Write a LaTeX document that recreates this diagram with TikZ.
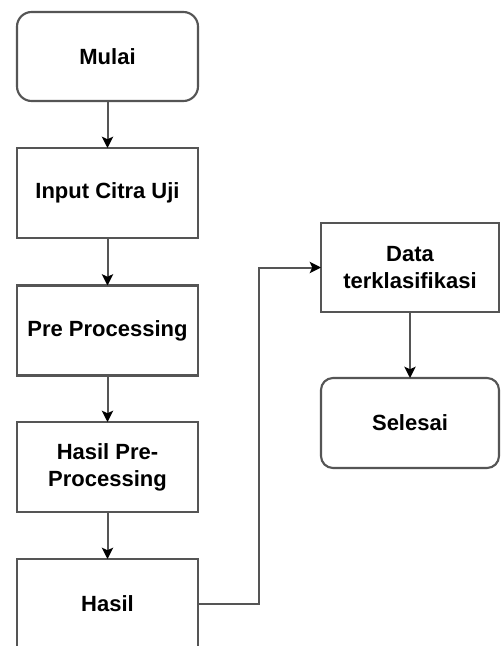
\documentclass[tikz,border=0pt]{standalone}
\usepackage{fontspec}
\setmainfont{Liberation Sans}
\usetikzlibrary{arrows.meta}
\definecolor{edge}{HTML}{555555}
\begin{document}
\begin{tikzpicture}[x=0.75pt,y=-0.75pt,
  base/.style={draw=edge,line width=1.6pt,inner sep=0pt,outer sep=0pt,align=center,
    font=\fontsize{16.5}{20.25}\selectfont\bfseries,text=black},
  procbox/.style={base,minimum width=135.75pt,minimum height=67.5pt},
  termbox/.style={base,rounded corners=11pt,minimum width=135.75pt,minimum height=66.75pt},
  rprocbox/.style={base,minimum width=133.5pt,minimum height=66.75pt},
  rtermbox/.style={base,rounded corners=9pt,minimum width=133.5pt,minimum height=67.5pt},
  arr/.style={draw=edge,line width=1.5pt,-{Stealth[length=8.5pt,width=8.5pt,inset=2pt,color=black]}}]
\clip (0,0) rectangle (500,646);
\useasboundingbox (0,0) rectangle (500,646);
\fill[white] (0,0) rectangle (500,646);
\node[termbox] (mulai) at (107.5,56.5) {Mulai};
\node[procbox] (input) at (107.5,193) {Input Citra Uji};
\node[procbox] (pre) at (107.5,330.5) {Pre Processing};
\node[procbox] (hpre) at (107.5,467) {Hasil Pre-\\Processing};
\node[procbox] (hasil) at (107.5,604) {Hasil};
\node[rprocbox] (data) at (410,267.5) {Data\\terklasifikasi};
\node[rtermbox] (selesai) at (410,423) {Selesai};
\draw[arr] (mulai) -- (input);
\draw[arr] (input) -- (pre);
\draw[arr] (pre) -- (hpre);
\draw[arr] (hpre) -- (hasil);
\coordinate (bend) at (259,604);
\draw[arr] (hasil.east) -- (bend) |- (data.west);
\draw[arr] (data) -- (selesai);
\end{tikzpicture}
\end{document}
